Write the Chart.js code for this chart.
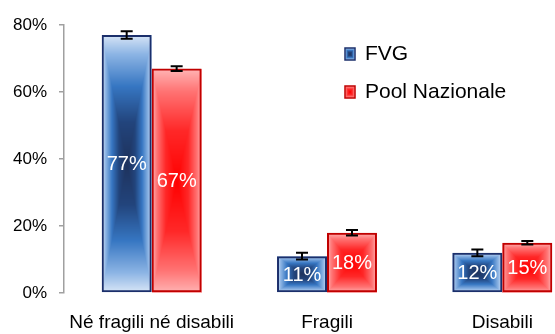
<!DOCTYPE html>
<html>
<head>
<meta charset="utf-8">
<script src="https://cdn.jsdelivr.net/npm/chart.js@4.4.1/dist/chart.umd.min.js"></script>
<style>
  html, body { margin: 0; padding: 0; background: #fff; overflow: hidden; }
  #wrap { width: 555px; height: 334px; overflow: hidden; }
</style>
</head>
<body>
<div id="wrap"><canvas id="myChart" width="600" height="334"></canvas></div>
<script>
  const categories = ["Né fragili né disabili", "Fragili", "Disabili"];
  const seriesNames = ["FVG", "Pool Nazionale"];
  const fvgValues = [77, 11, 12];
  const poolValues = [67, 18, 15];
  const fvgErrors = [1.1, 1.0, 1.0];
  const poolErrors = [0.7, 0.8, 0.5];
  const yTicks = [0, 20, 40, 60, 80];

  const FONT = "'Liberation Sans', Arial, sans-serif";

  // colour ramps for the rectangular "path" fill: centre -> edge
  const blueRamp = [[0, [30, 50, 92]], [0.32, [34, 68, 124]], [0.6, [54, 118, 194]], [0.85, [140, 180, 228]], [1, [215, 229, 246]]];
  const redRamp = [[0, [255, 0, 0]], [0.45, [255, 40, 40]], [0.8, [255, 115, 115]], [1, [255, 180, 180]]];

  const rampColor = (ramp, t) => {
    for (let i = 1; i < ramp.length; i++) {
      if (t <= ramp[i][0]) {
        const [t0, c0] = ramp[i - 1], [t1, c1] = ramp[i];
        const k = (t - t0) / (t1 - t0);
        return c0.map((c, j) => c + (c1[j] - c) * k);
      }
    }
    return ramp[ramp.length - 1][1];
  };

  // paints a box whose colour depends on distance to the nearest edge
  const fillPathGradient = (ctx, x0, y0, w, h, ramp) => {
    w = Math.round(w); h = Math.round(h);
    if (w <= 0 || h <= 0) return;
    const img = ctx.createImageData(w, h);
    const hw = w / 2, hh = h / 2;
    for (let j = 0; j < h; j++) {
      for (let i = 0; i < w; i++) {
        const t = Math.max(Math.abs(i + 0.5 - hw) / hw, Math.abs(j + 0.5 - hh) / hh);
        const c = rampColor(ramp, Math.min(1, t));
        const p = (j * w + i) * 4;
        img.data[p] = c[0]; img.data[p + 1] = c[1]; img.data[p + 2] = c[2]; img.data[p + 3] = 255;
      }
    }
    ctx.putImageData(img, Math.round(x0), Math.round(y0));
  };

  const ramps = [blueRamp, redRamp];
  const errors = [fvgErrors, poolErrors];

  const barFills = {
    id: "barFills",
    beforeDatasetsDraw(chart) {
      chart.data.datasets.forEach((ds, di) => {
        chart.getDatasetMeta(di).data.forEach(bar => {
          const { x, y, base, width } = bar.getProps(["x", "y", "base", "width"], true);
          fillPathGradient(chart.ctx, x - width / 2, y, width, base - y, ramps[di]);
        });
      });
    }
  };

  const barExtras = {
    id: "barExtras",
    afterDatasetsDraw(chart) {
      const ctx = chart.ctx;
      const yScale = chart.scales.y;
      chart.data.datasets.forEach((ds, di) => {
        chart.getDatasetMeta(di).data.forEach((bar, i) => {
          const { x, y, base } = bar.getProps(["x", "y", "base"], true);
          // value label
          ctx.save();
          ctx.fillStyle = "#fff";
          ctx.font = "20px " + FONT;
          ctx.textAlign = "center";
          ctx.textBaseline = "middle";
          ctx.fillText(ds.data[i] + "%", x, (y + base) / 2 + 1);
          ctx.restore();
          // error bar
          const v = ds.data[i], e = errors[di][i];
          const yHi = yScale.getPixelForValue(v + e), yLo = yScale.getPixelForValue(v - e);
          ctx.save();
          ctx.strokeStyle = "#000";
          ctx.lineWidth = 2;
          ctx.beginPath();
          ctx.moveTo(x, yHi); ctx.lineTo(x, yLo);
          ctx.moveTo(x - 6, yHi); ctx.lineTo(x + 6, yHi);
          ctx.moveTo(x - 6, yLo); ctx.lineTo(x + 6, yLo);
          ctx.stroke();
          ctx.restore();
        });
      });
    }
  };

  const sideLegend = {
    id: "sideLegend",
    afterDraw(chart) {
      const ctx = chart.ctx;
      chart.data.datasets.forEach((ds, di) => {
        const cy = 54 + di * 38;
        fillPathGradient(ctx, 345, cy - 6, 10, 12, ramps[di]);
        ctx.save();
        ctx.strokeStyle = ds.borderColor;
        ctx.lineWidth = 1.5;
        ctx.strokeRect(345, cy - 6, 10, 12);
        ctx.fillStyle = "#000";
        ctx.font = "21px " + FONT;
        ctx.textBaseline = "middle";
        ctx.fillText(ds.label, 365, cy);
        ctx.restore();
      });
    }
  };

  new Chart(document.getElementById("myChart"), {
    type: "bar",
    data: {
      labels: categories,
      datasets: [
        { label: seriesNames[0], data: fvgValues, backgroundColor: "rgba(0,0,0,0)", borderColor: "#1b2f6b", borderWidth: 2, borderSkipped: false },
        { label: seriesNames[1], data: poolValues, backgroundColor: "rgba(0,0,0,0)", borderColor: "#c00000", borderWidth: 2, borderSkipped: false },
      ]
    },
    options: {
      responsive: false,
      devicePixelRatio: 1,
      animation: false,
      layout: { padding: { top: 25, right: 10, left: 0, bottom: 0 } },
      plugins: { legend: { display: false }, tooltip: { enabled: false } },
      datasets: { bar: { barPercentage: 1, categoryPercentage: 0.57 } },
      scales: {
        x: {
          grid: { display: false, drawTicks: false },
          border: { display: false },
          ticks: { color: "#000", font: { size: 19, family: FONT }, padding: 18, maxRotation: 0, autoSkip: false },
          afterFit: scale => { scale.height = 41; }
        },
        y: {
          min: 0,
          max: 80,
          afterBuildTicks: scale => { scale.ticks = yTicks.map(v => ({ value: v })); },
          grid: { display: true, drawOnChartArea: false, drawTicks: true, tickLength: 5, color: "#a0a0a0", lineWidth: 1.5 },
          border: { display: true, color: "#a0a0a0", width: 1.5 },
          ticks: { color: "#000", font: { size: 17, family: FONT }, padding: 12, callback: v => v + "%" },
          afterFit: scale => { scale.width = 64; }
        }
      }
    },
    plugins: [barFills, barExtras, sideLegend]
  });
</script>
</body>
</html>
